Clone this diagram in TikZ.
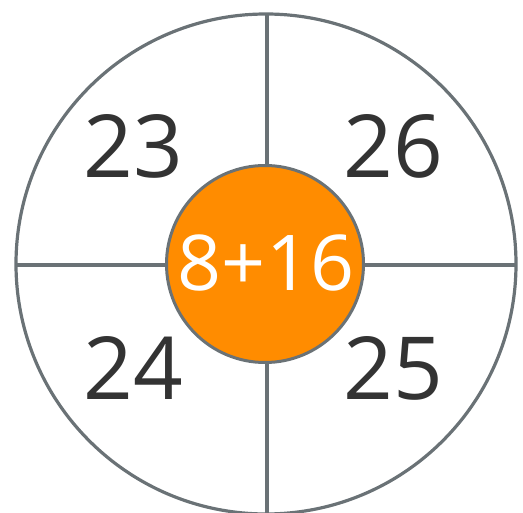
\documentclass[tikz,border=0pt]{standalone}
\usepackage{fontspec}
\setmainfont{Open Sans}
\usepackage{tikz}
\usetikzlibrary{positioning}
\definecolor{ringgray}{RGB}{106,114,118}
\definecolor{numdark}{RGB}{51,51,51}
\definecolor{huborange}{RGB}{255,140,0}
\tikzset{
  ring/.style={draw=ringgray, line width=3.2pt},
  spoke/.style={draw=ringgray, line width=3.2pt},
  hub/.style={circle, draw=ringgray, fill=huborange, line width=3pt,
    minimum size=197pt, inner sep=0pt},
  num/.style={inner sep=0pt, text=numdark, font=\fontsize{87}{87}\selectfont},
  hubtext/.style={inner sep=0pt, text=white, font=\fontsize{77}{77}\selectfont}
}
\begin{document}
\begin{tikzpicture}[x=1pt, y=-1pt]
  \useasboundingbox (0,0) rectangle (523,513);

  % Outer ring and spokes
  \coordinate (c) at (266,264);
  \draw[ring] (c) circle (250);
  \coordinate (top) at (267,13);
  \coordinate (bot) at (267,514);
  \coordinate (lft) at (16,265);
  \coordinate (rgt) at (516,265);
  \draw[spoke] (top) -- (bot);
  \draw[spoke] (lft) -- (rgt);

  % Centre
  \node[hub] (hub) at (265,264) {};
  \node[hubtext] (sum) at (266,263) {8+16};

  % Quadrant numbers
  \node[num] (n23) at (133,146) {23};
  \node[num] (n26) at (393,146) {26};
  \node[num] (n24) at (133,368) {24};
  \node[num] (n25) at (393,368) {25};
\end{tikzpicture}
\end{document}
